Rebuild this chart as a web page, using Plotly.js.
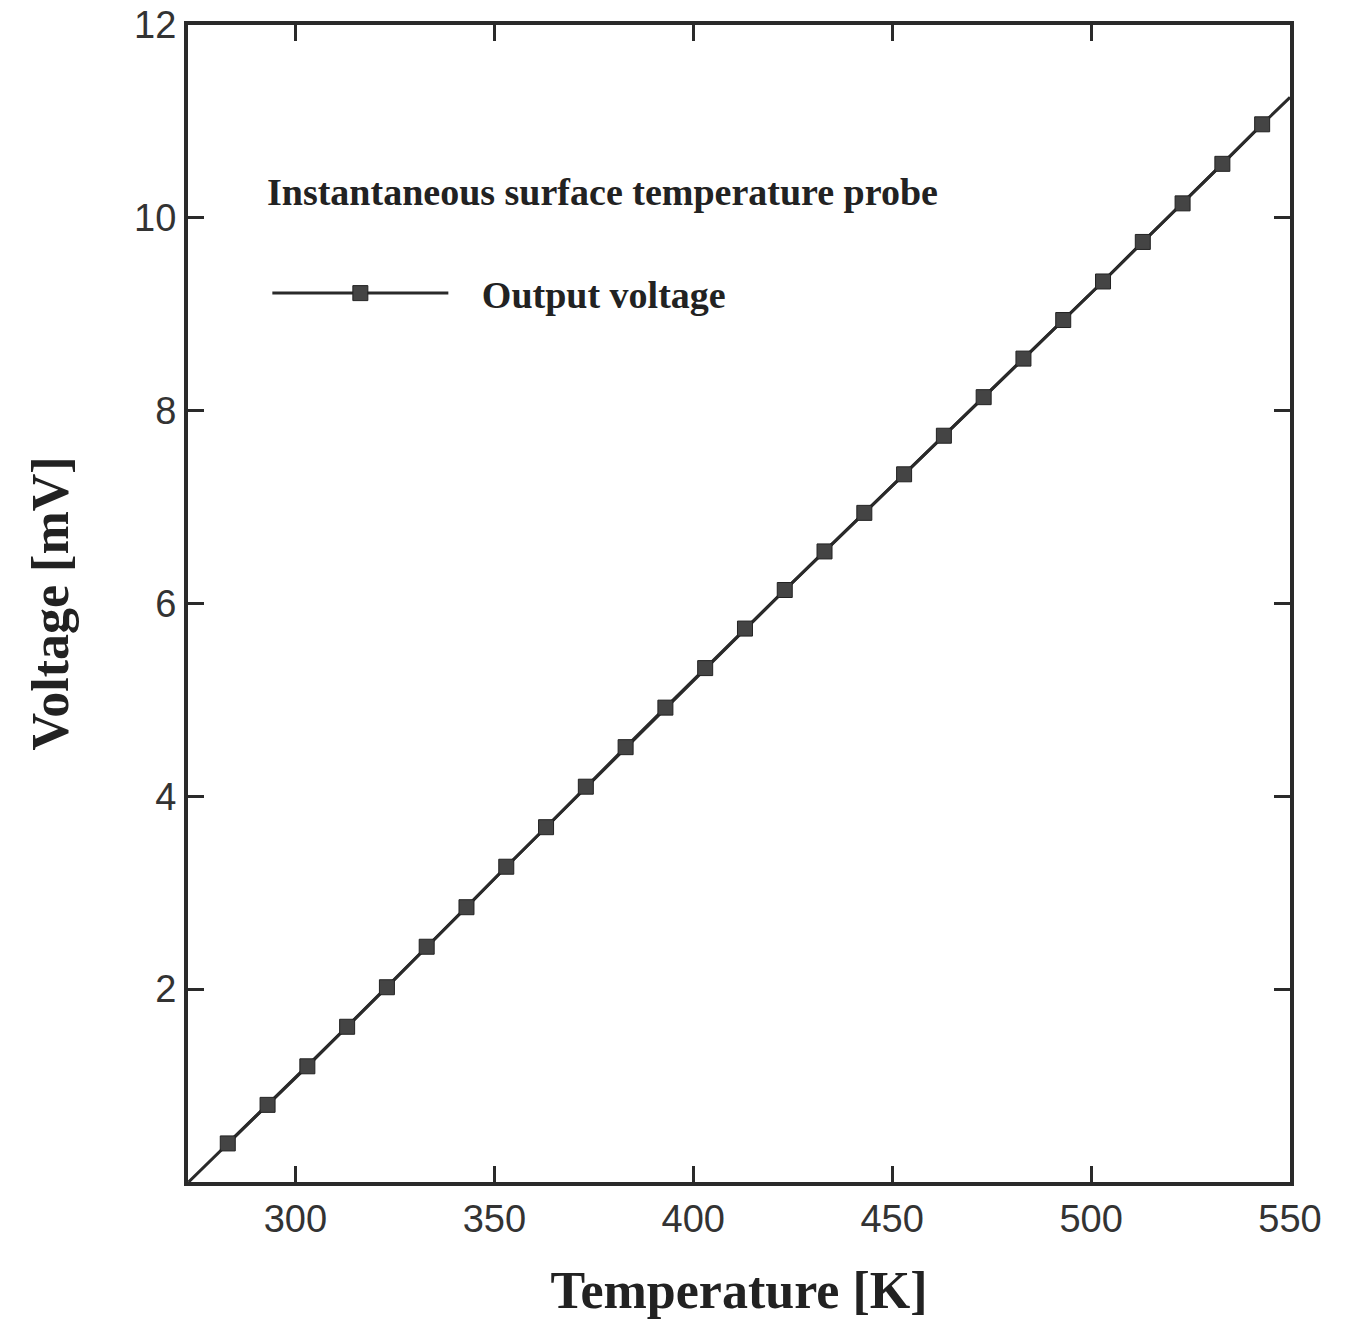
<!DOCTYPE html>
<html>
<head>
<meta charset="utf-8">
<script src="https://cdn.plot.ly/plotly-3.0.1.min.js"></script>
<style>html,body{margin:0;padding:0;background:#fff;}</style>
</head>
<body>
<div id="chart" style="width:1360px;height:1328px;"></div>
<script>
// Marker points: temperature [K] and output voltage [mV]
const temperatureK = [283, 293, 303, 313, 323, 333, 343, 353, 363, 373, 383, 393, 403, 413,
  423, 433, 443, 453, 463, 473, 483, 493, 503, 513, 523, 533, 543];
const voltageMV = [0.40, 0.80, 1.20, 1.61, 2.02, 2.44, 2.85, 3.27, 3.68, 4.10, 4.51, 4.92, 5.33, 5.74,
  6.14, 6.54, 6.94, 7.34, 7.74, 8.14, 8.54, 8.94, 9.34, 9.75, 10.15, 10.56, 10.97];
// Line ends beyond the markers
const lineStartT = 273.15, lineStartV = 0.0;
const lineEndT = 550, lineEndV = 11.25;

const xTicks = [300, 350, 400, 450, 500, 550];
const yTicks = [2, 4, 6, 8, 10, 12];

const lineT = [lineStartT].concat(temperatureK, [lineEndT]);
const lineV = [lineStartV].concat(voltageMV, [lineEndV]);

const ink = '#2a2a2a';

const traces = [
  {x: lineT, y: lineV, mode: 'lines', showlegend: false, hoverinfo: 'skip',
   line: {color: ink, width: 3}},
  {x: temperatureK, y: voltageMV, mode: 'lines+markers', name: '\u00a0\u00a0\u00a0Output voltage',
   line: {color: ink, width: 3},
   marker: {symbol: 'square', size: 15, color: '#444', line: {color: '#222', width: 1}}}
];

const axisCommon = {
  showline: true, linecolor: ink, linewidth: 4, mirror: 'allticks',
  ticks: 'inside', ticklen: 16, tickwidth: 3, tickcolor: ink,
  showgrid: false, zeroline: false,
  tickfont: {family: 'Liberation Sans, Arial, sans-serif', size: 38, color: '#333'}
};

const layout = {
  width: 1360, height: 1328,
  margin: {l: 188, r: 70, t: 25, b: 146},
  paper_bgcolor: '#fff', plot_bgcolor: '#fff',
  xaxis: Object.assign({}, axisCommon, {
    range: [273, 550], tickvals: xTicks, ticktext: xTicks.map(String),
    title: {text: 'Temperature [K]', standoff: 34,
      font: {family: 'Liberation Serif, Times New Roman, serif', size: 52, color: '#222', weight: 'bold'}}
  }),
  yaxis: Object.assign({}, axisCommon, {
    range: [0, 12], tickvals: yTicks, ticktext: yTicks.map(String),
    title: {text: 'Voltage [mV]', standoff: 50,
      font: {family: 'Liberation Serif, Times New Roman, serif', size: 52, color: '#222', weight: 'bold'}}
  }),
  showlegend: true,
  legend: {x: 0.072, y: 0.768, xanchor: 'left', yanchor: 'middle',
    bgcolor: 'rgba(0,0,0,0)', itemwidth: 176,
    font: {family: 'Liberation Serif, Times New Roman, serif', size: 38, color: '#222', weight: 'bold'}},
  annotations: [{
    text: 'Instantaneous surface temperature probe', xref: 'paper', yref: 'paper',
    x: 0.07, y: 0.856, xanchor: 'left', yanchor: 'middle', showarrow: false,
    font: {family: 'Liberation Serif, Times New Roman, serif', size: 38, color: '#222', weight: 'bold'}
  }]
};

Plotly.newPlot('chart', traces, layout, {displayModeBar: false, staticPlot: true});
</script>
</body>
</html>
